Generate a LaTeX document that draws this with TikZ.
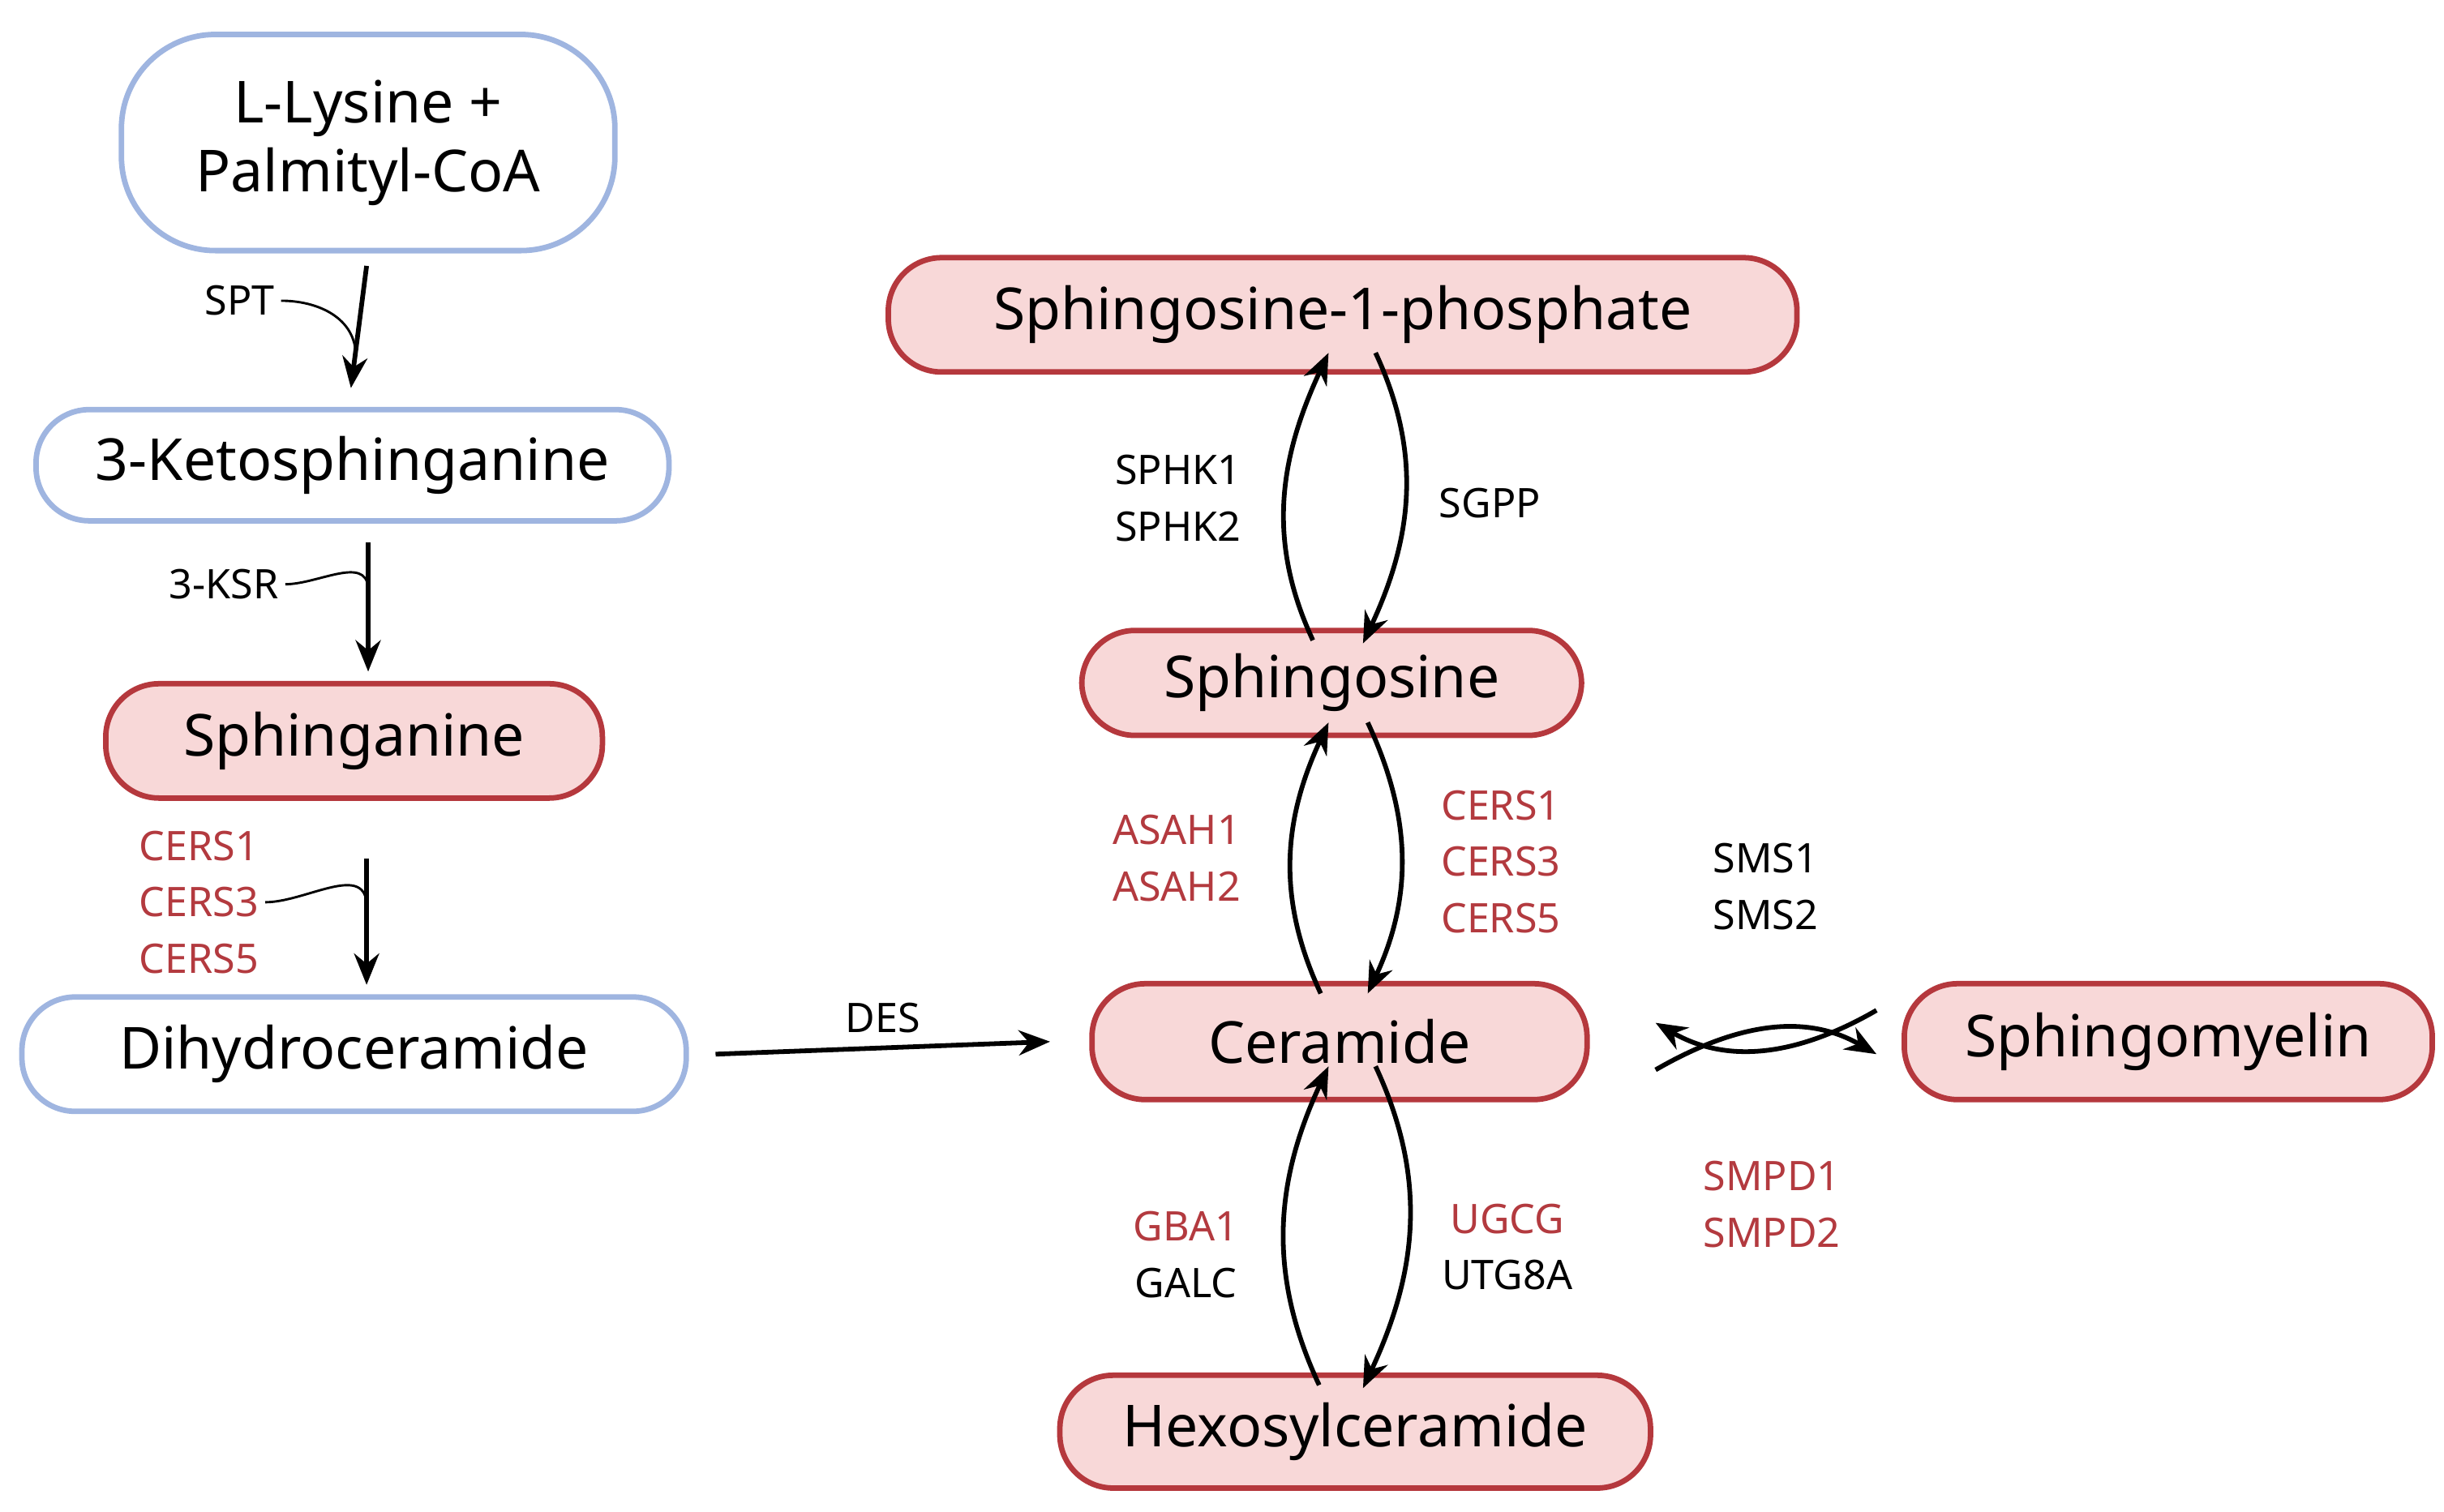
\documentclass[tikz,border=0pt]{standalone}
\usepackage{fontspec}
\setmainfont{Noto Sans}
\usetikzlibrary{arrows.meta}
\definecolor{rb}{HTML}{B5383D}
\definecolor{rf}{HTML}{F8D8D8}
\definecolor{bb}{HTML}{9FB5E0}
\definecolor{rt}{HTML}{B33A3F}
\begin{document}
\begin{tikzpicture}[x=1pt,y=-1pt,
 base/.style={rounded corners=34pt,line width=3.5pt,inner sep=0pt,font=\fontsize{37}{44}\selectfont,align=center},
 blue/.style={base,draw=bb,fill=white},
 red/.style={base,draw=rb,fill=rf},
 lab/.style={font=\fontsize{26}{36}\selectfont,align=center,inner sep=0pt},
 rl/.style={lab,text=rt},
 arr/.style={line width=3pt,-{Stealth[length=20pt,width=16pt]}},
 hook/.style={line width=1.5pt}]
\useasboundingbox (0,0) rectangle (1560,965);
\node[blue,minimum width=315pt,minimum height=138pt,rounded corners=60pt] (lys) at (235,91) {L-Lysine +\\Palmityl-CoA};
\node[blue,minimum width=404pt,minimum height=71pt] (keto) at (225,297) {3-Ketosphinganine};
\node[red,minimum width=317pt,minimum height=73pt] (sga) at (226,473) {Sphinganine};
\node[blue,minimum width=424pt,minimum height=73pt] (dhc) at (226,673) {Dihydroceramide};
\node[red,minimum width=580pt,minimum height=73pt] (s1p) at (857,201) {Sphingosine-1-phosphate};
\node[red,minimum width=319pt,minimum height=67pt] (sgo) at (850,436) {Sphingosine};
\node[red,minimum width=316pt,minimum height=74pt] (cer) at (855,665) {Ceramide};
\node[red,minimum width=337pt,minimum height=74pt] (sm) at (1384,665) {Sphingomyelin};
\node[red,minimum width=377pt,minimum height=72pt] (hex) at (865,914) {Hexosylceramide};
% left chain
\node[lab] (spt) at (153,192) {SPT};
\node[lab] (ksr) at (143,373) {3-KSR};
\node[rl] (cers) at (127,576) {CERS1\\CERS3\\CERS5};
\draw[arr] ([xshift=-1pt,yshift=-8pt]lys.south) -- coordinate[pos=0.7] (h1) ([xshift=-1pt,yshift=12pt]keto.north);
\draw[hook] (spt.east) ++(4pt,0) to[out=0,in=95] (h1);
\draw[arr] ([xshift=10pt,yshift=-12pt]keto.south) -- coordinate[pos=0.35] (h2) ([xshift=9pt,yshift=6pt]sga.north);
\draw[hook] (ksr.east) ++(4pt,0) to[out=0,in=95] (h2);
\draw[arr] ([xshift=8pt,yshift=-37pt]sga.south) -- coordinate[pos=0.35] (h3) ([xshift=8pt,yshift=6pt]dhc.north);
\draw[hook] ([xshift=4pt]cers.east) to[out=0,in=95] (h3);
\draw[arr] ([xshift=17pt]dhc.east) -- node[lab,above=8pt] (des) {DES} ([xshift=-25pt]cer.west);
% S1P loop
\draw[arr] ([xshift=-12pt,yshift=-8pt]sgo.north) to[out=115,in=-115] ([xshift=-9pt,yshift=14pt]s1p.south);
\draw[arr] ([xshift=21pt,yshift=14pt]s1p.south) to[out=-65,in=65] ([xshift=20pt,yshift=-10pt]sgo.north);
\node[lab,align=left] (sphk) at (752,318) {SPHK1\\SPHK2};
\node[lab] (sgpp) at (951,321) {SGPP};
% Sphingosine-Ceramide
\draw[arr] ([xshift=-12pt,yshift=-8pt]cer.north) to[out=115,in=-115] ([xshift=-2pt,yshift=10pt]sgo.south);
\draw[arr] ([xshift=23pt,yshift=10pt]sgo.south) to[out=-65,in=65] ([xshift=18pt,yshift=-8pt]cer.north);
\node[rl] (asah) at (751,548) {ASAH1\\ASAH2};
\node[rl] (cers2) at (958,550) {CERS1\\CERS3\\CERS5};
% Ceramide-Hex
\draw[arr] ([xshift=-23pt,yshift=-8pt]hex.north) to[out=115,in=-115] ([xshift=-7pt,yshift=23pt]cer.south);
\draw[arr] ([xshift=23pt,yshift=23pt]cer.south) to[out=-65,in=65] ([xshift=5pt,yshift=-10pt]hex.north);
\node[lab] (gba) at (757,801) {\textcolor{rt}{GBA1}\\GALC};
\node[lab] (ugcg) at (962,796) {\textcolor{rt}{UGCG}\\UTG8A};
% SM loop
\draw[arr] ([xshift=42pt,yshift=-18pt]cer.east) to[out=30,in=150] ([xshift=-16pt,yshift=-8pt]sm.west);
\draw[arr] ([xshift=-16pt,yshift=20pt]sm.west) to[out=-150,in=-30] ([xshift=42pt,yshift=12pt]cer.east);
\node[lab] (sms) at (1127,566) {SMS1\\SMS2};
\node[rl] (smpd) at (1131,769) {SMPD1\\SMPD2};
\end{tikzpicture}
\end{document}
